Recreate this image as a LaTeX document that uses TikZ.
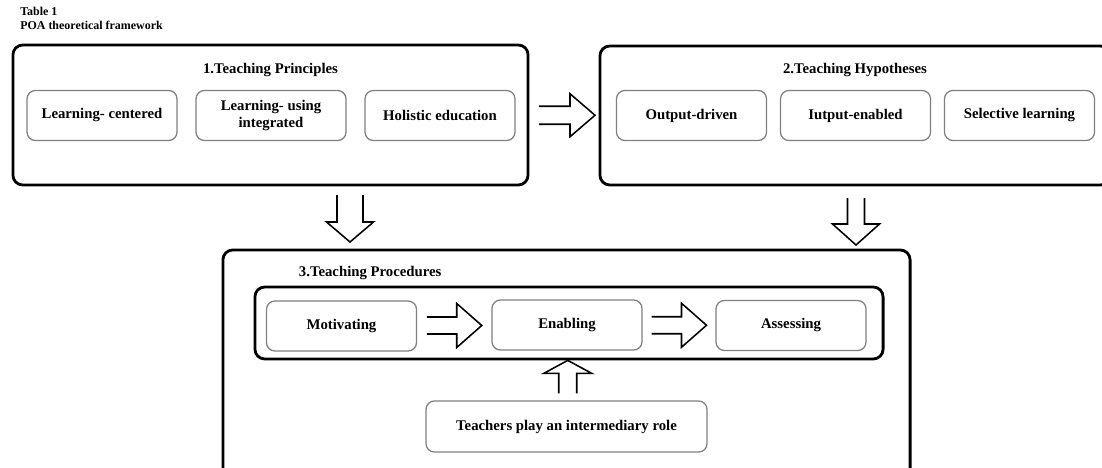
\documentclass[tikz,border=0pt]{standalone}
\usepackage{fontspec}
\setmainfont{Liberation Serif}
\usetikzlibrary{calc}

\begin{document}
\begin{tikzpicture}[x=0.025cm, y=-0.025cm,
    bigbox/.style={draw, line width=2pt, rounded corners=7pt},
    smallbox/.style={draw=gray, line width=0.9pt, rounded corners=6pt, minimum width=3.75cm, minimum height=1.25cm, align=center, font=\fontsize{10.5}{12}\selectfont\bfseries},
    headtext/.style={font=\fontsize{10.5}{12}\selectfont\bfseries},
    arrowline/.style={line width=1.1pt, line join=miter},
    pics/fatarrow/.style n args={4}{code={
        \draw[arrowline] (-#1/2,-#4) -- (#1/2-#2,-#4) -- (#1/2-#2,-#3) -- (#1/2,0) -- (#1/2-#2,#3) -- (#1/2-#2,#4) -- (-#1/2,#4);}}]
      \useasboundingbox (0,0) rectangle (1102,467);
      \clip (0,0) rectangle (1102,467);
      \node[anchor=north west, align=left, font=\fontsize{8.5}{10}\selectfont\bfseries, inner sep=0pt](caption) at (20,7) {Table 1\\POA theoretical framework};

      \node[bigbox, minimum width=12.875cm, minimum height=3.5cm](principles) at (270.5,115) {};
      \node[headtext](principlestitle) at (270.5,70) {1.Teaching Principles};
      \node[smallbox](centered) at (102,115.5) {Learning- centered};
      \node[smallbox](integrated) at (271,115.5) {Learning- using\\integrated};
      \node[smallbox](holistic) at (440,115.5) {Holistic education};

      \node[bigbox, minimum width=12.75cm, minimum height=3.475cm](hypotheses) at (855,115.5) {};
      \node[headtext](hypothesestitle) at (855,70) {2.Teaching Hypotheses};
      \node[smallbox](output) at (691.5,115.5) {Output-driven};
      \node[smallbox](input) at (855.5,115.5) {Iutput-enabled};
      \node[smallbox](selective) at (1019.5,115.5) {Selective learning};

      \node[bigbox, minimum width=17.175cm, minimum height=5.75cm](procedures) at (566.5,365) {};
      \node[headtext, anchor=west](procedurestitle) at (294,273) {3.Teaching Procedures};
      \node[bigbox, minimum width=15.7cm, minimum height=1.8cm](stages) at (569,323) {};
      \node[smallbox](motivating) at (341.5,326) {Motivating};
      \node[smallbox](enabling) at (567,325) {Enabling};
      \node[smallbox](assessing) at (791,325.5) {Assessing};
      \node[smallbox, minimum width=7.025cm, minimum height=1.275cm](teachers) at (566.5,426.5) {Teachers play an intermediary role};

      \pic at ($(principles.east)!0.5!(hypotheses.west)+(3,0)$) {fatarrow={56}{25}{21.5}{9}};
      \pic[rotate=-90] at (350,218.5) {fatarrow={47}{20}{23.5}{13}};
      \pic[rotate=-90] at (856,221.5) {fatarrow={47}{21}{23.5}{8.5}};
      \pic at ($(motivating.east)!0.5!(enabling.west)$) {fatarrow={55}{25}{22}{8.5}};
      \pic at ($(enabling.east)!0.5!(assessing.west)$) {fatarrow={55}{25}{22}{8.5}};
      \pic[rotate=90] at ($(teachers.north)!0.5!(stages.south)+(0,-3.5)$) {fatarrow={33}{13}{24}{9}};
\end{tikzpicture}
\end{document}
